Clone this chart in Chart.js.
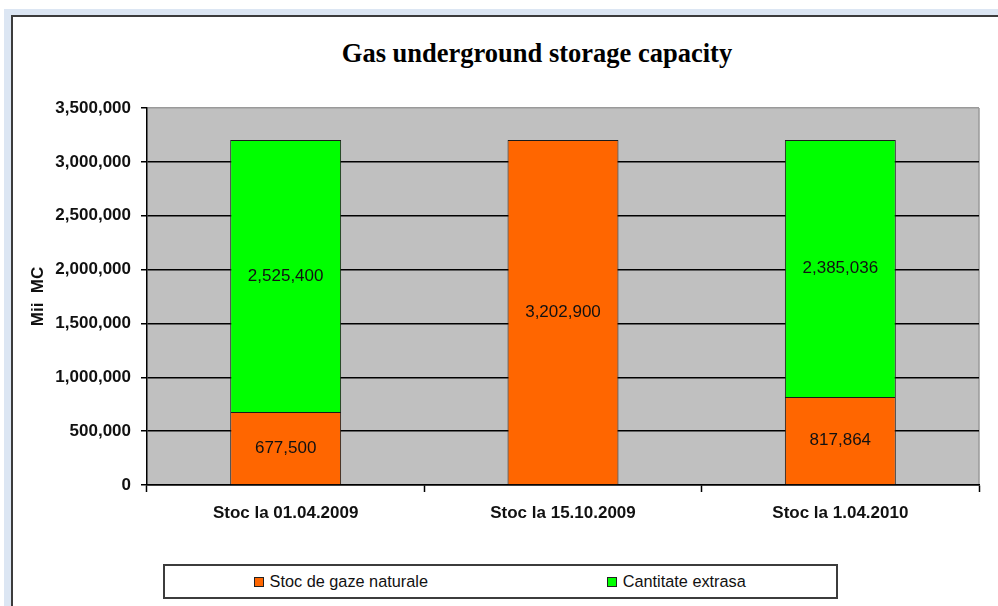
<!DOCTYPE html>
<html>
<head>
<meta charset="utf-8">
<title>Gas underground storage capacity</title>
<script src="https://cdn.jsdelivr.net/npm/chart.js@4.4.1/dist/chart.umd.min.js"></script>
<style>
    html, body { margin: 0; padding: 0; background: #fff; overflow: hidden; }
    body { width: 998px; height: 606px; position: relative; }
    #strip { position: absolute; left: 4px; top: 9px; right: -20px; bottom: -20px; background: #dce6f3; }
    #frame { position: absolute; left: 11px; top: 15px; right: -20px; bottom: -20px;
             background: #fff; border-left: 2px solid #3c3c3c; border-top: 2px solid #3c3c3c; }
    #title { position: absolute; left: 0; top: 38px; width: 1074px; text-align: center;
             font: bold 26.5px "Liberation Serif", "Times New Roman", serif; line-height: 30px; color: #000; }
    #chart { position: absolute; left: 0; top: 0; }
    #legend { position: absolute; left: 163px; top: 564px; width: 671px; height: 31px;
              border: 2px solid #3c3c3c; background: #fff; display: flex;
              font: 16.3px "Liberation Sans", Arial, sans-serif; color: #111; }
    #legend .item { width: 50%; display: flex; align-items: center; justify-content: center; padding-left: 16px; box-sizing: border-box; }
    #legend .box { width: 8px; height: 8px; border: 1px solid #222; margin-right: 6px; }
</style>
</head>
<body>
<div id="strip"></div>
<div id="frame"></div>
<div id="title">Gas underground storage capacity</div>
<canvas id="chart" width="998" height="606"></canvas>
<div id="legend"></div>

<script>
const categorii = ["Stoc la 01.04.2009", "Stoc la 15.10.2009", "Stoc la 1.04.2010"];
const stocGaze = [677500, 3202900, 817864];
const cantitateExtrasa = [2525400, null, 2385036];
const yTicks = [0, 500000, 1000000, 1500000, 2000000, 2500000, 3000000, 3500000];

const fmt = v => v.toLocaleString("en-US");
const sans = '"Liberation Sans", Arial, sans-serif';

// fundal gri pentru zona graficului
const plotBackground = {
    id: "plotBackground",
    beforeDraw(chart) {
        const { ctx, chartArea: a } = chart;
        ctx.save();
        ctx.fillStyle = "#c0c0c0";
        ctx.fillRect(a.left, a.top, a.right - a.left, a.bottom - a.top);
        ctx.strokeStyle = "#9a9a9a";
        ctx.lineWidth = 1.5;
        ctx.beginPath();
        ctx.moveTo(a.right, a.top);
        ctx.lineTo(a.right, a.bottom);
        ctx.stroke();
        ctx.restore();
    }
};

// valorile scrise in mijlocul fiecarui segment
const valueLabels = {
    id: "valueLabels",
    afterDatasetsDraw(chart) {
        const { ctx } = chart;
        ctx.save();
        ctx.font = "17px " + sans;
        ctx.fillStyle = "#111";
        ctx.textAlign = "center";
        ctx.textBaseline = "middle";
        chart.data.datasets.forEach((ds, i) => {
            chart.getDatasetMeta(i).data.forEach((bar, j) => {
                const v = ds.data[j];
                if (v == null) return;
                ctx.fillText(fmt(v), bar.x, (bar.y + bar.base) / 2);
            });
        });
        ctx.restore();
    }
};

const chart = new Chart(document.getElementById("chart"), {
    type: "bar",
    data: {
        labels: categorii,
        datasets: [
            {
                label: "Stoc de gaze naturale",
                data: stocGaze,
                backgroundColor: "#ff6600",
                borderColor: "#1a1a1a",
                borderWidth: 1
            },
            {
                label: "Cantitate extrasa",
                data: cantitateExtrasa,
                backgroundColor: "#00ff00",
                borderColor: "#1a1a1a",
                borderWidth: 1
            }
        ]
    },
    options: {
        responsive: false,
        animation: false,
        layout: { padding: { left: 0, top: 108, right: 19, bottom: 81 } },
        datasets: { bar: { categoryPercentage: 1, barPercentage: 0.4 } },
        plugins: {
            legend: { display: false },
            title: { display: false },
            tooltip: { enabled: false }
        },
        scales: {
            x: {
                stacked: true,
                afterFit: s => { s.height = 40; },
                grid: { drawOnChartArea: false, drawTicks: true, tickLength: 7, tickColor: "#000", tickWidth: 1.5, offset: true },
                border: { color: "#000", width: 1.5 },
                ticks: {
                    padding: 11,
                    color: "#111",
                    font: { family: sans, size: 17, weight: "bold" }
                }
            },
            y: {
                stacked: true,
                min: yTicks[0],
                max: yTicks[yTicks.length - 1],
                afterFit: s => { s.width = 147; },
                afterBuildTicks: s => { s.ticks = yTicks.map(v => ({ value: v })); },
                grid: {
                    color: c => c.tick && c.tick.value === 3500000 ? "#9a9a9a" : "#000",
                    lineWidth: 1.5,
                    tickLength: 6,
                    tickColor: "#000",
                    tickWidth: 1.5
                },
                border: { color: "#000", width: 1.5 },
                ticks: {
                    padding: 10,
                    color: "#111",
                    callback: v => fmt(v),
                    font: { family: sans, size: 17, weight: "bold" }
                },
                title: {
                    display: true,
                    text: "Mii  MC",
                    color: "#111",
                    padding: { top: 28, bottom: 0 },
                    font: { family: sans, size: 17, weight: "bold" }
                }
            }
        }
    },
    plugins: [plotBackground, valueLabels]
});

// legenda HTML din seturile de date
const legend = document.getElementById("legend");
chart.data.datasets.forEach(ds => {
    const item = document.createElement("div");
    item.className = "item";
    item.innerHTML = `<span class="box" style="background:${ds.backgroundColor}"></span><span>${ds.label}</span>`;
    legend.appendChild(item);
});
</script>
</body>
</html>
